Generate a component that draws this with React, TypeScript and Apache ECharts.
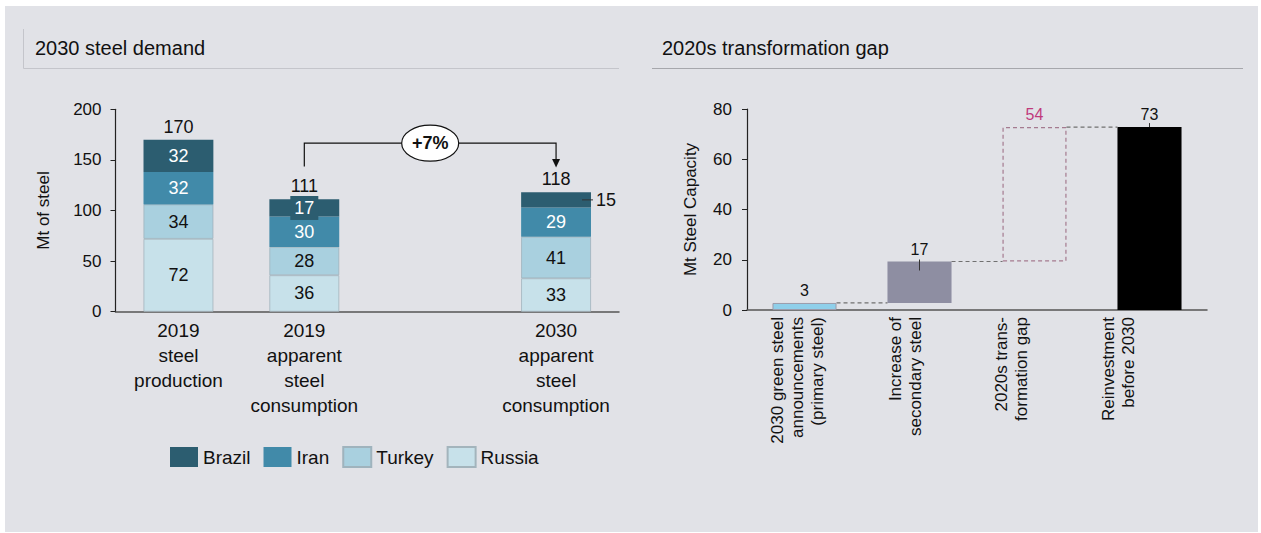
import React, { useEffect, useRef } from 'react';
import * as echarts from 'echarts';

// ---------- data: left chart ----------
const LEFT_CATEGORIES = [
  '2019\nsteel\nproduction',
  '2019\napparent\nsteel\nconsumption',
  '',
  '2030\napparent\nsteel\nconsumption',
];
const BRAZIL: (number | string)[] = [32, 17, '-', 15];
const IRAN: (number | string)[] = [32, 30, '-', 29];
const TURKEY: (number | string)[] = [34, 28, '-', 41];
const RUSSIA: (number | string)[] = [72, 36, '-', 33];
const GROWTH_LABEL = '+7%';
const LEFT_TITLE = '2030 steel demand';
const LEFT_Y_NAME = 'Mt of steel';

// ---------- data: right chart ----------
const RIGHT_CATEGORIES = [
  '2030 green steel\nannouncements\n(primary steel)',
  'Increase of\nsecondary steel',
  '2020s trans-\nformation gap',
  'Reinvestment\nbefore 2030',
];
const GREEN_ANNOUNCEMENTS = 2.8;
const SECONDARY_INCREASE = 16.5;
const TRANSFORMATION_GAP = 53.5;
const REINVESTMENT = 72.8;
const RIGHT_TITLE = '2020s transformation gap';
const RIGHT_Y_NAME = 'Mt Steel Capacity';

// ---------- styles ----------
const FONT = '"Liberation Sans", Arial, Helvetica, sans-serif';
const TXT = '#111111';
const C_BRAZIL = '#2c5d70';
const C_IRAN = '#418aa9';
const C_TURKEY = '#a9d0df';
const C_RUSSIA = '#c7e1ea';
// extra blank space under each rotated label (moves the text block left on screen)
const RIGHT_LABEL_SPACER = [14, 28, 46, 62];

const num = (v: any) => (typeof v === 'number' ? v : 0);
const TOTALS = LEFT_CATEGORIES.map((_, i) =>
  BRAZIL[i] === '-' ? '-' : num(BRAZIL[i]) + num(IRAN[i]) + num(TURKEY[i]) + num(RUSSIA[i])
);

export default function App() {
  const ref = useRef<HTMLDivElement>(null);

  useEffect(() => {
    if (!ref.current) return;
    const chart = echarts.init(ref.current, null, { renderer: 'svg' });

    const inside = (color: string) => ({
      show: true,
      position: 'inside',
      color,
      fontSize: 18,
      fontFamily: FONT,
    });

    const baseSeries = ['-', GREEN_ANNOUNCEMENTS, GREEN_ANNOUNCEMENTS + SECONDARY_INCREASE, '-'];

    const spacerRich: any = {};
    RIGHT_LABEL_SPACER.forEach((h, i) => {
      spacerRich['sp' + i] = { lineHeight: h, height: h, fontSize: 1 };
    });

    const option: any = {
      animation: false,
      textStyle: { fontFamily: FONT },
      title: [
        { text: LEFT_TITLE, left: 35, top: 38, padding: 0, textStyle: { fontSize: 20, fontWeight: 'normal', color: TXT, fontFamily: FONT } },
        { text: RIGHT_TITLE, left: 662, top: 38, padding: 0, textStyle: { fontSize: 20, fontWeight: 'normal', color: TXT, fontFamily: FONT } },
      ],
      legend: {
        data: ['Brazil', 'Iran', 'Turkey', 'Russia'],
        left: 170,
        top: 446,
        padding: 0,
        icon: 'rect',
        itemWidth: 28,
        itemHeight: 20,
        itemGap: 13,
        textStyle: { fontSize: 19, color: TXT, fontFamily: FONT },
      },
      grid: [
        { left: 115.5, top: 109.3, width: 503.5, height: 202.4 },
        { left: 747, top: 109, width: 460, height: 201 },
      ],
      xAxis: [
        {
          type: 'category',
          gridIndex: 0,
          data: LEFT_CATEGORIES,
          axisTick: { show: false },
          axisLine: { lineStyle: { color: '#555', width: 1.5 } },
          axisLabel: { interval: 0, fontSize: 19, lineHeight: 25, color: TXT, margin: 6, fontFamily: FONT },
        },
        {
          type: 'category',
          gridIndex: 1,
          data: RIGHT_CATEGORIES,
          axisTick: { show: false },
          axisLine: { lineStyle: { color: '#555', width: 1.5 } },
          axisLabel: {
            interval: 0, rotate: 90, fontSize: 17, lineHeight: 20, color: TXT, margin: 7, fontFamily: FONT,
            formatter: (value: string, index: number) => `${value}\n{sp${index}| }`,
            rich: spacerRich,
          },
        },
      ],
      yAxis: [
        {
          type: 'value',
          gridIndex: 0,
          min: 0,
          max: 200,
          interval: 50,
          splitLine: { show: false },
          axisLine: { show: true, lineStyle: { color: '#222', width: 1.2 } },
          axisTick: { show: true, length: 5, lineStyle: { color: '#222' } },
          axisLabel: { fontSize: 17, color: TXT, margin: 14, fontFamily: FONT },
          name: LEFT_Y_NAME,
          nameLocation: 'middle',
          nameGap: 64,
          nameTextStyle: { fontSize: 17, color: TXT, fontFamily: FONT },
        },
        {
          type: 'value',
          gridIndex: 1,
          min: 0,
          max: 80,
          interval: 20,
          splitLine: { show: false },
          axisLine: { show: true, lineStyle: { color: '#222', width: 1.2 } },
          axisTick: { show: true, length: 5, lineStyle: { color: '#222' } },
          axisLabel: { fontSize: 17, color: TXT, margin: 15, fontFamily: FONT },
          name: RIGHT_Y_NAME,
          nameLocation: 'middle',
          nameGap: 48,
          nameTextStyle: { fontSize: 17, color: TXT, fontFamily: FONT },
        },
      ],
      series: [
        {
          name: 'Russia', type: 'bar', stack: 'demand', xAxisIndex: 0, yAxisIndex: 0, barWidth: '55.5%',
          data: RUSSIA,
          itemStyle: { color: C_RUSSIA, borderColor: '#a3b4bc', borderWidth: 0.8 },
          label: inside(TXT),
        },
        {
          name: 'Turkey', type: 'bar', stack: 'demand', xAxisIndex: 0, yAxisIndex: 0, barWidth: '55.5%',
          data: TURKEY,
          itemStyle: { color: C_TURKEY, borderColor: '#9fb3bd', borderWidth: 0.8 },
          label: inside(TXT),
        },
        {
          name: 'Iran', type: 'bar', stack: 'demand', xAxisIndex: 0, yAxisIndex: 0, barWidth: '55.5%',
          data: IRAN,
          itemStyle: { color: C_IRAN },
          label: inside('#ffffff'),
        },
        {
          name: 'Brazil', type: 'bar', stack: 'demand', xAxisIndex: 0, yAxisIndex: 0, barWidth: '55.5%',
          data: BRAZIL.map((v, i) => {
            if (i === 1) return { value: v, label: { backgroundColor: C_BRAZIL, padding: [3, 4, 3, 4] } };
            if (i === 3)
              return {
                value: v,
                label: {
                  position: ['100%', '50%'],
                  align: 'left',
                  verticalAlign: 'middle',
                  offset: [-9, 0],
                  color: TXT,
                  formatter: '{l|}{v|{c}}',
                  rich: {
                    l: { width: 11, height: 1, backgroundColor: '#333', verticalAlign: 'middle' },
                    v: { fontSize: 18, color: TXT, padding: [0, 0, 0, 3], fontFamily: FONT },
                  },
                },
              };
            return v;
          }),
          itemStyle: { color: C_BRAZIL },
          label: inside('#ffffff'),
        },
        {
          name: 'total', type: 'bar', stack: 'demand', xAxisIndex: 0, yAxisIndex: 0, barWidth: '55.5%',
          data: TOTALS.map((t) => (t === '-' ? '-' : 0)),
          itemStyle: { color: 'rgba(0,0,0,0)' },
          label: {
            show: true, position: 'top', distance: 4, fontSize: 18, color: TXT, fontFamily: FONT,
            formatter: (p: any) => String(TOTALS[p.dataIndex]),
          },
        },
        // ---- right waterfall ----
        {
          name: 'base', type: 'bar', stack: 'gap', xAxisIndex: 1, yAxisIndex: 1, barWidth: '55.7%',
          data: baseSeries,
          itemStyle: { color: 'rgba(0,0,0,0)' },
          silent: true,
        },
        {
          name: 'green', type: 'bar', stack: 'gap', xAxisIndex: 1, yAxisIndex: 1, barWidth: '55.7%',
          data: [GREEN_ANNOUNCEMENTS, '-', '-', '-'],
          itemStyle: { color: '#8fcfea', borderColor: '#9b9bab', borderWidth: 1 },
          label: { show: true, position: 'top', distance: 4, fontSize: 16, color: TXT, formatter: (p: any) => String(Math.round(p.value)) },
        },
        {
          name: 'secondary', type: 'bar', stack: 'gap', xAxisIndex: 1, yAxisIndex: 1, barWidth: '55.7%',
          data: ['-', SECONDARY_INCREASE, '-', '-'],
          itemStyle: { color: '#8e8ea2' },
          label: { show: true, position: 'top', distance: 4, fontSize: 16, color: TXT, formatter: (p: any) => String(Math.round(p.value)) },
        },
        {
          name: 'gap', type: 'bar', stack: 'gap', xAxisIndex: 1, yAxisIndex: 1, barWidth: '55.7%',
          data: ['-', '-', TRANSFORMATION_GAP, '-'],
          itemStyle: { color: 'rgba(0,0,0,0)', borderColor: '#a57b90', borderType: [4, 3], borderWidth: 1.2 },
          label: { show: true, position: 'top', distance: 5, fontSize: 16, color: '#c03a7c', formatter: (p: any) => String(Math.round(p.value)) },
        },
        {
          name: 'reinvest', type: 'bar', stack: 'gap', xAxisIndex: 1, yAxisIndex: 1, barWidth: '55.7%',
          data: ['-', '-', '-', REINVESTMENT],
          itemStyle: { color: '#000000' },
          label: { show: true, position: 'top', distance: 5, fontSize: 16, color: TXT, formatter: (p: any) => String(Math.round(p.value)) },
        },
      ],
    };

    chart.setOption(option);

    // ---- annotations computed from axis scales ----
    const pL = (c: number, v: number) => chart.convertToPixel({ xAxisIndex: 0, yAxisIndex: 0 }, [c, v]) as number[];
    const pR = (c: number, v: number) => chart.convertToPixel({ xAxisIndex: 1, yAxisIndex: 1 }, [c, v]) as number[];

    const bracketTop = pL(1, 166.5)[1];
    const bStart = pL(1, 143.5);
    const bEnd = pL(3, 151);
    const mid = pL(2, 166.5);

    const bw1 = pR(1, 0)[0] - pR(0, 0)[0];
    const hw = (bw1 * 0.557) / 2;
    const cx = [0, 1, 2, 3].map((i) => pR(i, 0)[0]);
    const yGreen = pR(0, GREEN_ANNOUNCEMENTS)[1];
    const ySec = pR(1, GREEN_ANNOUNCEMENTS + SECONDARY_INCREASE)[1];
    const yTop = pR(3, REINVESTMENT)[1];

    const dash = { stroke: '#707070', lineWidth: 1.2, lineDash: [4, 3] };

    const graphic: any[] = [
      // panel header lines
      { type: 'line', shape: { x1: 23.5, y1: 29, x2: 23.5, y2: 68.5 }, style: { stroke: '#c4c5cb', lineWidth: 1 } },
      { type: 'line', shape: { x1: 23.5, y1: 68.5, x2: 619, y2: 68.5 }, style: { stroke: '#c4c5cb', lineWidth: 1 } },
      { type: 'line', shape: { x1: 652, y1: 68.5, x2: 1243, y2: 68.5 }, style: { stroke: '#a6a7ac', lineWidth: 1.2 } },
      // growth bracket
      {
        type: 'polyline',
        shape: { points: [[bStart[0], bStart[1]], [bStart[0], bracketTop], [bEnd[0], bracketTop], [bEnd[0], bEnd[1]]] },
        style: { stroke: '#111', lineWidth: 1.2, fill: null },
      },
      {
        type: 'polygon',
        shape: { points: [[bEnd[0] - 4, bEnd[1]], [bEnd[0] + 4, bEnd[1]], [bEnd[0], bEnd[1] + 8.5]] },
        style: { fill: '#111' },
      },
      {
        type: 'ellipse',
        shape: { cx: mid[0], cy: mid[1], rx: 28.5, ry: 18 },
        style: { fill: '#ffffff', stroke: '#111', lineWidth: 1.2 },
      },
      {
        type: 'text',
        x: mid[0],
        y: mid[1],
        style: { text: GROWTH_LABEL, fontSize: 18, fontWeight: 'bold', fill: '#111', align: 'center', verticalAlign: 'middle', fontFamily: FONT },
      },
      // waterfall connectors
      { type: 'line', z: 10, shape: { x1: cx[0] + hw, y1: yGreen, x2: cx[1] - hw, y2: yGreen }, style: dash },
      { type: 'line', z: 10, shape: { x1: cx[1] + hw, y1: ySec, x2: cx[2] - hw, y2: ySec }, style: dash },
      { type: 'line', z: 10, shape: { x1: cx[2] + hw, y1: yTop, x2: cx[3] - hw, y2: yTop }, style: dash },
      // label leader ticks
      { type: 'line', z: 10, shape: { x1: cx[1], y1: ySec - 2, x2: cx[1], y2: ySec + 9 }, style: { stroke: '#333', lineWidth: 1 } },
      { type: 'line', z: 10, shape: { x1: cx[3], y1: yTop - 4, x2: cx[3], y2: yTop }, style: { stroke: '#333', lineWidth: 1 } },
    ];

    chart.setOption({ graphic });

    return () => chart.dispose();
  }, []);

  return (
    <div style={{ position: 'absolute', left: 0, top: 0, width: 1261, height: 533, background: '#ffffff' }}>
      <div style={{ position: 'absolute', left: 5, top: 6, width: 1253, height: 526, background: '#e1e2e7' }} />
      <div ref={ref} style={{ position: 'absolute', left: 0, top: 0, width: 1261, height: 533 }} />
    </div>
  );
}
